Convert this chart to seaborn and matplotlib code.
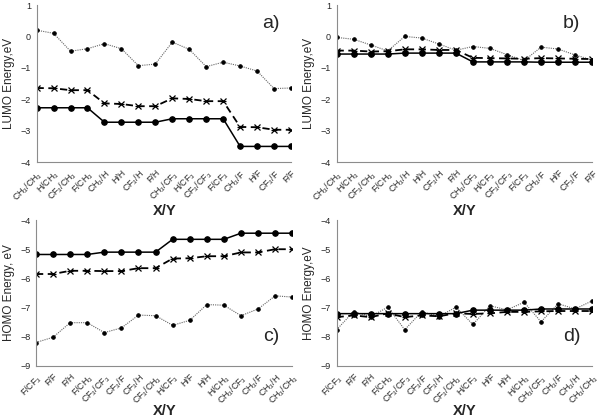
import numpy as np
import pandas as pd
import matplotlib
matplotlib.use("Agg")
import matplotlib.pyplot as plt
import seaborn as sns

sns.set_style("white")
plt.rcParams['font.family'] = ['Liberation Sans', 'DejaVu Sans']
plt.rcParams['mathtext.fontset'] = 'custom'
plt.rcParams['mathtext.rm'] = 'Liberation Sans'
plt.rcParams['mathtext.it'] = 'Liberation Sans'

# ---- data ----
lumo_labels = ["CH$_3$/CH$_3$", "H/CH$_3$", "CF$_3$/CH$_3$", "F/CH$_3$", "CH$_3$/H", "H/H",
               "CF$_3$/H", "F/H", "CH$_3$/CF$_3$", "H/CF$_3$", "CF$_3$/CF$_3$", "F/CF$_3$",
               "CH$_3$/F", "H/F", "CF$_3$/F", "F/F"]
homo_labels = ["F/CF$_3$", "F/F", "F/H", "F/CH$_3$", "CF$_3$/CF$_3$", "CF$_3$/F", "CF$_3$/H",
               "CF$_3$/CH$_3$", "H/CF$_3$", "H/F", "H/H", "H/CH$_3$", "CH$_3$/CF$_3$",
               "CH$_3$/F", "CH$_3$/H", "CH$_3$/CH$_3$"]

a_solid = [-2.27, -2.27, -2.27, -2.27, -2.73, -2.73, -2.73, -2.73,
           -2.62, -2.62, -2.62, -2.62, -3.50, -3.50, -3.50, -3.50]
a_dashed = [-1.64, -1.65, -1.71, -1.71, -2.13, -2.15, -2.22, -2.22,
            -1.97, -1.99, -2.06, -2.06, -2.88, -2.89, -2.97, -2.97]
a_dotted = [0.20, 0.10, -0.47, -0.39, -0.23, -0.39, -0.93, -0.88,
            -0.18, -0.41, -0.96, -0.82, -0.94, -1.10, -1.66, -1.64]

b_solid = [-0.56, -0.56, -0.56, -0.56, -0.53, -0.53, -0.53, -0.53,
           -0.81, -0.81, -0.81, -0.81, -0.82, -0.82, -0.82, -0.82]
b_dashed = [-0.45, -0.45, -0.48, -0.47, -0.41, -0.41, -0.43, -0.43,
            -0.68, -0.69, -0.70, -0.71, -0.69, -0.70, -0.71, -0.72]
b_dotted = [-0.03, -0.09, -0.27, -0.46, 0.00, -0.05, -0.24, -0.44,
            -0.32, -0.38, -0.58, -0.77, -0.34, -0.40, -0.59, -0.75]

c_solid = [-5.18, -5.18, -5.18, -5.18, -5.10, -5.10, -5.10, -5.10,
           -4.66, -4.66, -4.66, -4.66, -4.45, -4.45, -4.45, -4.45]
c_dashed = [-5.85, -5.85, -5.74, -5.74, -5.75, -5.75, -5.65, -5.65,
            -5.32, -5.31, -5.24, -5.24, -5.11, -5.11, -5.00, -5.00]
c_dotted = [-8.20, -8.02, -7.52, -7.52, -7.86, -7.70, -7.26, -7.28,
            -7.61, -7.44, -6.90, -6.92, -7.28, -7.05, -6.60, -6.64]

d_solid = [-7.21, -7.21, -7.21, -7.21, -7.21, -7.21, -7.21, -7.21,
           -7.09, -7.09, -7.09, -7.09, -7.05, -7.05, -7.05, -7.05]
d_dashed = [-7.33, -7.27, -7.33, -7.20, -7.33, -7.27, -7.30, -7.20,
            -7.22, -7.20, -7.15, -7.15, -7.13, -7.12, -7.12, -7.12]
d_dotted = [-7.76, -7.14, -7.31, -6.99, -7.76, -7.14, -7.31, -6.99,
            -7.58, -6.94, -7.08, -6.82, -7.49, -6.87, -7.05, -6.77]

panels = [
    dict(labels=lumo_labels, s=a_solid, d=a_dashed, o=a_dotted, ylab="LUMO Energy,eV",
         tag="a)", ylim=(-4, 1), rect=[0.061, 0.614, 0.424, 0.374], tagpos=(0.885, 0.88),
         xy=(0.275, 0.498)),
    dict(labels=lumo_labels, s=b_solid, d=b_dashed, o=b_dotted, ylab="LUMO Energy,eV",
         tag="b)", ylim=(-4, 1), rect=[0.561, 0.614, 0.426, 0.374], tagpos=(0.885, 0.88),
         xy=(0.775, 0.498)),
    dict(labels=homo_labels, s=c_solid, d=c_dashed, o=c_dotted, ylab="HOMO Energy, eV",
         tag="c)", ylim=(-9, -4), rect=[0.060, 0.129, 0.427, 0.347], tagpos=(0.885, 0.20),
         xy=(0.275, 0.022)),
    dict(labels=homo_labels, s=d_solid, d=d_dashed, o=d_dotted, ylab="HOMO Energy,eV",
         tag="d)", ylim=(-9, -4), rect=[0.561, 0.129, 0.426, 0.347], tagpos=(0.885, 0.20),
         xy=(0.775, 0.022)),
]

fig = plt.figure(figsize=(6, 4.2), dpi=100)
axis_col = "#8c8c8c"

for p in panels:
    ax = fig.add_axes(p["rect"])
    x = np.arange(len(p["labels"]))
    df = pd.DataFrame({"x": x, "solid": p["s"], "dashed": p["d"], "dotted": p["o"]})
    sns.lineplot(data=df, x="x", y="dotted", ax=ax, color="#666666", lw=0.8,
                 linestyle=(0, (1, 1)), marker="o", markersize=2.5,
                 markeredgecolor="black", markerfacecolor="black")
    sns.lineplot(data=df, x="x", y="dashed", ax=ax, color="black", lw=1.3,
                 linestyle=(0, (4, 2.5)), marker="x", markersize=4.5,
                 markeredgewidth=0.9, markeredgecolor="black")
    sns.scatterplot(data=df, x="x", y="dashed", ax=ax, marker="_", s=22,
                    color="black", linewidth=0.9)
    sns.lineplot(data=df, x="x", y="solid", ax=ax, color="black", lw=1.1,
                 marker="o", markersize=4, markeredgecolor="black",
                 markerfacecolor="black")
    ax.set_xlim(0, len(x) - 1)
    ax.set_ylim(*p["ylim"])
    ax.set_yticks(np.arange(p["ylim"][0], p["ylim"][1] + 1, 1))
    ax.set_xticks(x)
    ax.set_xticklabels(p["labels"], rotation=45, ha="right", rotation_mode="anchor",
                       fontsize=6.4)
    ax.tick_params(axis="y", labelsize=6.5, length=3, width=0.7, color=axis_col, pad=1)
    ax.tick_params(axis="x", length=3, width=0.7, color=axis_col, pad=1.5)
    for sp in ["top", "right"]:
        ax.spines[sp].set_visible(False)
    for sp in ["left", "bottom"]:
        ax.spines[sp].set_color(axis_col)
        ax.spines[sp].set_linewidth(0.8)
    ax.set_ylabel(p["ylab"], fontsize=8.5, labelpad=4)
    ax.set_xlabel("")
    fig.text(p["xy"][0], p["xy"][1], "X/Y", fontsize=10.5, fontweight="bold",
             ha="center", va="center")
    ax.text(p["tagpos"][0], p["tagpos"][1], p["tag"], transform=ax.transAxes,
            fontsize=14, ha="left", va="center")

fig.savefig("out.png", dpi=100)
